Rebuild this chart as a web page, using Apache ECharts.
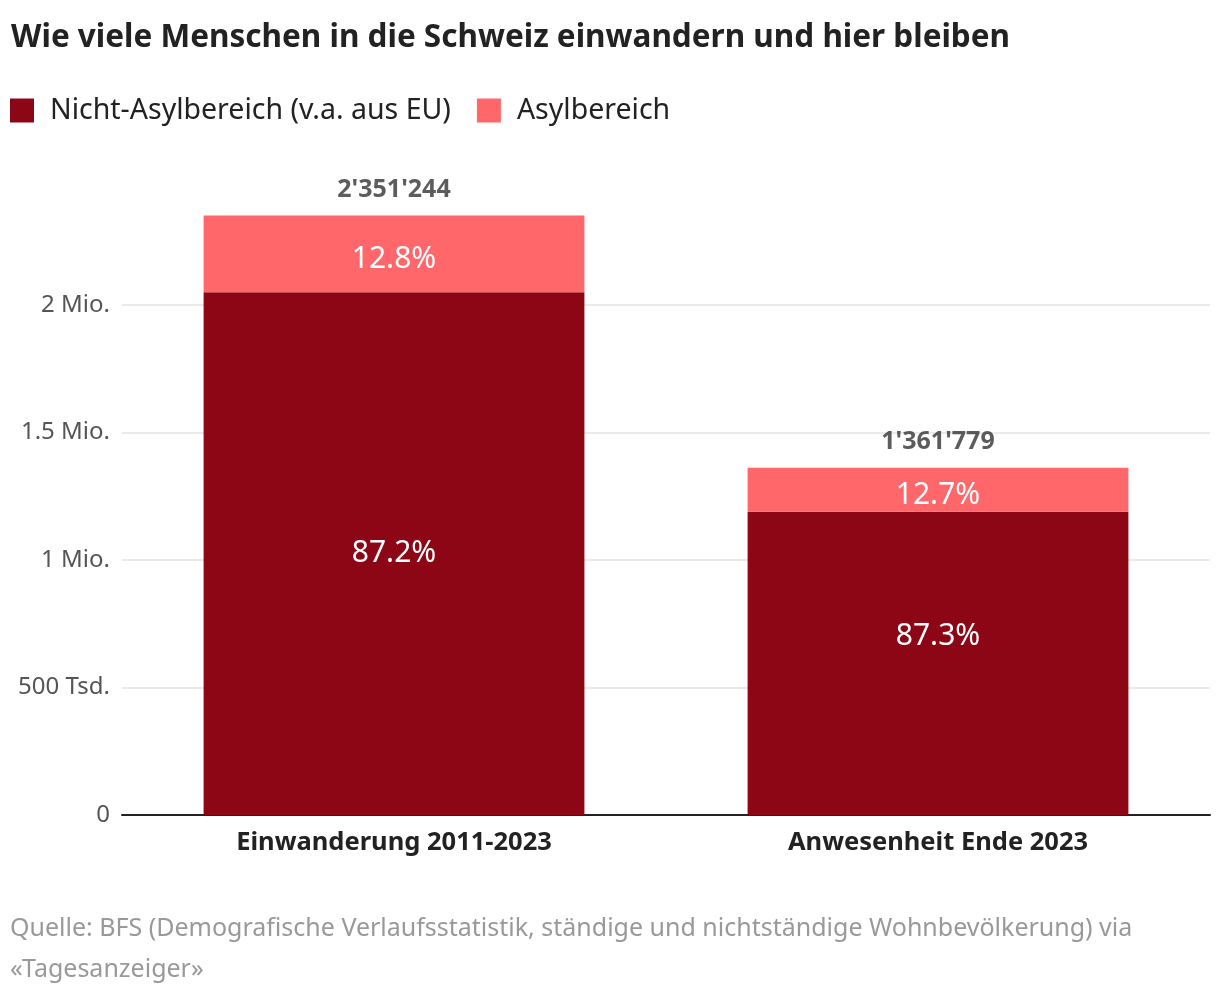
<!DOCTYPE html>
<html lang="de">
<head>
    <meta charset="UTF-8">
    <title>Einwanderung Schweiz</title>
    <script src="https://cdn.jsdelivr.net/npm/echarts@6/dist/echarts.min.js"></script>
    <style>
        html, body { margin: 0; padding: 0; background: #fff; }
        #chart { width: 1220px; height: 998px; }
    </style>
</head>
<body>
    <div id="chart"></div>
    <script>
        const FONT = '"Noto Sans", "Open Sans", sans-serif';

        // Daten
        const categories = ['Einwanderung 2011-2023', 'Anwesenheit Ende 2023'];
        const nichtAsyl = [2050285, 1188833]; // Nicht-Asylbereich (v.a. aus EU)
        const asyl = [300959, 172946];        // Asylbereich
        const totals = [2351244, 1361779];
        const yTicks = ['0', '500 Tsd.', '1 Mio.', '1.5 Mio.', '2 Mio.'];

        // 2351244 -> 2'351'244
        function swiss(n) {
            return String(n).replace(/\B(?=(\d{3})+(?!\d))/g, "'");
        }
        function pct(v, i) {
            return (v / totals[i] * 100).toFixed(1) + '%';
        }

        // im Original sitzt das Label des zweiten Balkens etwas höher
        const nichtAsylData = nichtAsyl.map((v, i) => i === 1 ? { value: v, label: { offset: [0, -27] } } : v);

        const chart = echarts.init(document.getElementById('chart'));
        const option = {
            animation: false,
            textStyle: { fontFamily: FONT },
            title: {
                text: 'Wie viele Menschen in die Schweiz einwandern und hier bleiben',
                left: 6,
                top: 17,
                textStyle: { fontFamily: FONT, fontSize: 31.5, fontWeight: 'bold', color: '#222' }
            },
            legend: {
                left: 10,
                top: 96,
                padding: 0,
                icon: 'rect',
                itemWidth: 24,
                itemHeight: 24,
                itemGap: 26,
                textStyle: { fontFamily: FONT, fontSize: 28.5, color: '#222', padding: [0, 0, 0, 11] },
                data: ['Nicht-Asylbereich (v.a. aus EU)', 'Asylbereich']
            },
            grid: { left: 122, right: 10, top: 177.5, bottom: 183 },
            xAxis: {
                type: 'category',
                data: categories,
                axisTick: { show: false },
                axisLine: { lineStyle: { color: '#222', width: 2 } },
                axisLabel: { margin: 15, fontFamily: FONT, fontSize: 25.5, fontWeight: 'bold', color: '#222' }
            },
            yAxis: {
                type: 'value',
                min: 0,
                max: 2500000,
                interval: 500000,
                axisLine: { show: false },
                axisTick: { show: false },
                splitLine: { showMaxLine: false, lineStyle: { color: '#e3e3e3', width: 1.5 } },
                axisLabel: {
                    showMaxLabel: false,
                    margin: 12,
                    fontFamily: FONT,
                    fontSize: 24,
                    color: '#555',
                    formatter: v => yTicks[v / 500000] || ''
                }
            },
            series: [
                {
                    name: 'Nicht-Asylbereich (v.a. aus EU)',
                    type: 'bar',
                    stack: 'total',
                    barWidth: '70%',
                    itemStyle: { color: '#8c0616' },
                    label: {
                        show: true,
                        position: 'inside',
                        fontFamily: FONT,
                        fontSize: 30,
                        color: '#fff',
                        formatter: p => pct(p.value, p.dataIndex)
                    },
                    data: nichtAsylData
                },
                {
                    name: 'Asylbereich',
                    type: 'bar',
                    stack: 'total',
                    itemStyle: { color: '#ff676b' },
                    label: {
                        show: true,
                        position: 'inside',
                        offset: [0, 6],
                        fontFamily: FONT,
                        fontSize: 30,
                        color: '#fff',
                        formatter: p => pct(p.value, p.dataIndex)
                    },
                    data: asyl
                },
                {
                    name: 'Total',
                    type: 'scatter',
                    symbolSize: 0,
                    silent: true,
                    label: {
                        show: true,
                        position: 'top',
                        distance: 13,
                        fontFamily: FONT,
                        fontSize: 25,
                        fontWeight: 'bold',
                        color: '#333',
                        formatter: p => swiss(p.value)
                    },
                    data: totals
                }
            ],
            graphic: [
                {
                    type: 'text',
                    left: 10,
                    top: 908,
                    style: {
                        text: 'Quelle: BFS (Demografische Verlaufsstatistik, ständige und nichtständige Wohnbevölkerung) via\n«Tagesanzeiger»',
                        fontFamily: FONT,
                        fontSize: 25,
                        lineHeight: 41,
                        fill: '#999'
                    }
                }
            ]
        };
        chart.setOption(option);
    </script>
</body>
</html>
